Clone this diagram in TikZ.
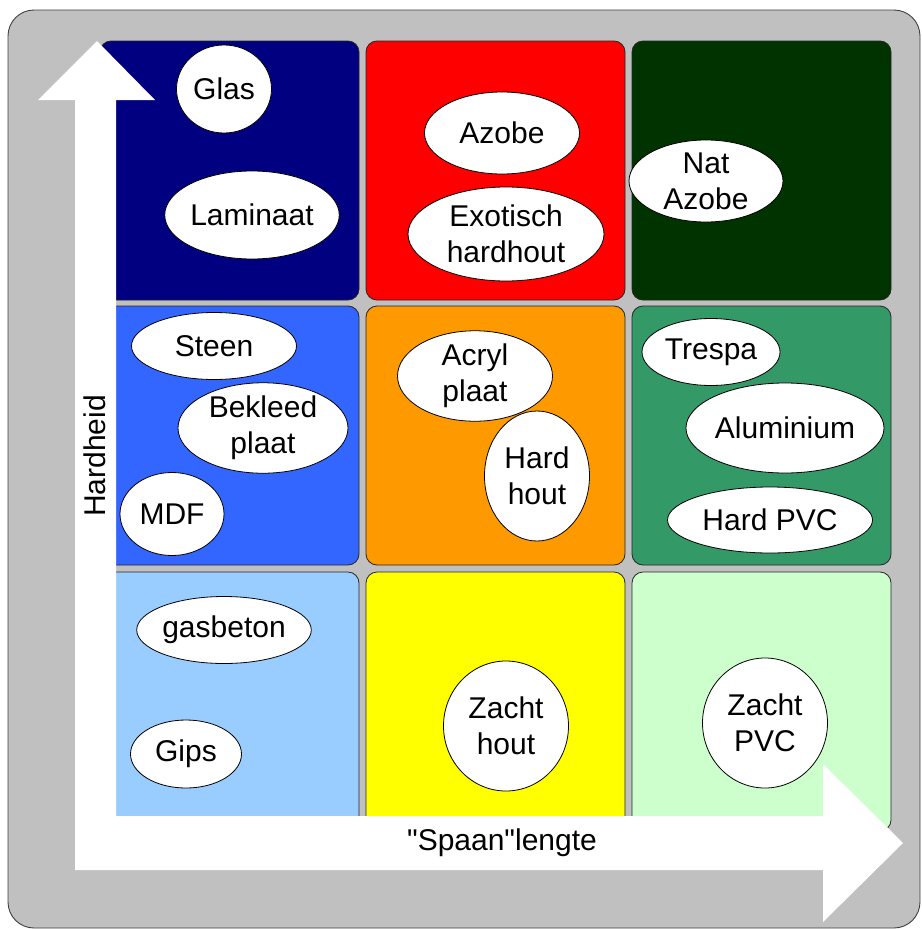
\documentclass[tikz,border=0pt]{standalone}
\usepackage{fontspec}
\setmainfont{Liberation Sans}
\usetikzlibrary{shapes.geometric}
\definecolor{frame}{HTML}{C0C0C0}
\definecolor{cNavy}{HTML}{000080}
\definecolor{cRed}{HTML}{FF0000}
\definecolor{cForest}{HTML}{003300}
\definecolor{cBlue}{HTML}{3366FF}
\definecolor{cOrange}{HTML}{FF9900}
\definecolor{cSea}{HTML}{339966}
\definecolor{cSky}{HTML}{99CCFF}
\definecolor{cYellow}{HTML}{FFFF00}
\definecolor{cMint}{HTML}{CCFFCC}
\newcommand{\strq}{\XeTeXglyph\XeTeXglyphindex "quotedbl"\relax}
\begin{document}
\begin{tikzpicture}[x=1pt,y=-1pt,
  cellbox/.style={draw=black!85, line width=0.8pt, rounded corners=11pt},
  item/.style={ellipse, draw=black, fill=white, line width=0.8pt, inner sep=0pt,
    align=center, font=\fontsize{30}{36}\selectfont},
  axistext/.style={font=\fontsize{30}{36}\selectfont, inner sep=0pt}]
\useasboundingbox (0,0) rectangle (921,929);
% outer frame
\draw[fill=frame, draw=black!75, line width=0.9pt, rounded corners=26pt] (8,10) rectangle (920,928);
% cells
\path[cellbox, fill=cNavy]   (100,41)  rectangle (359,300);
\path[cellbox, fill=cRed]    (366,41)  rectangle (625,300);
\path[cellbox, fill=cForest] (632,41)  rectangle (891,300);
\path[cellbox, fill=cBlue]   (100,306) rectangle (359,565);
\path[cellbox, fill=cOrange] (366,306) rectangle (625,565);
\path[cellbox, fill=cSea]    (632,306) rectangle (891,565);
\path[cellbox, fill=cSky]    (100,572) rectangle (359,831);
\path[cellbox, fill=cYellow] (366,572) rectangle (625,831);
\path[cellbox, fill=cMint]   (632,572) rectangle (891,831);
% items
\node[item, minimum width=95,  minimum height=88] (glas) at (224,89) {Glas};
\node[item, minimum width=170, minimum height=88] (laminaat) at (252,215) {Laminaat};
\node[item, minimum width=155, minimum height=82] (azobe) at (502,133) {Azobe};
\node[item, minimum width=196, minimum height=94] (exotisch) at (506,234) {Exotisch\\hardhout};
\node[item, minimum width=154, minimum height=82] (natazobe) at (706,181) {Nat\\Azobe};
\node[item, minimum width=165, minimum height=67] (steen) at (214,346) {Steen};
\node[item, minimum width=170, minimum height=88] (bekleed) at (263,428) {Bekleed\\plaat};
\node[item, minimum width=104, minimum height=83] (mdf) at (172,514) {MDF};
\node[item, minimum width=155, minimum height=82] (acryl) at (475,376) {Acryl\\plaat};
\node[item, minimum width=105, minimum height=130] (hardhout) at (537,476) {Hard\\hout};
\node[item, minimum width=138, minimum height=67] (trespa) at (711,352) {Trespa};
\node[item, minimum width=198, minimum height=90] (alu) at (785,428) {Aluminium};
\node[item, minimum width=205, minimum height=66] (hardpvc) at (770,520) {Hard PVC};
\node[item, minimum width=167, minimum height=67] (gasbeton) at (224,630) {gasbeton};
\node[item, minimum width=111, minimum height=68] (gips) at (186,754) {Gips};
\node[item, minimum width=125, minimum height=130] (zachthout) at (506,726) {Zacht\\hout};
\node[item, minimum width=125, minimum height=130] (zachtpvc) at (765,723) {Zacht\\PVC};
% axes arrow
\fill[white] (75,100) -- (38,100) -- (97,41) -- (155,100) -- (116,100) -- (116,816)
  -- (823,816) -- (823,764) -- (903,843) -- (823,922) -- (823,870) -- (75,870) -- cycle;
\node[axistext, rotate=90] (hardheid) at (95,456) {Hardheid};
\node[axistext] (spaan) at (502,843) {\strq Spaan\strq lengte};
\end{tikzpicture}
\end{document}
